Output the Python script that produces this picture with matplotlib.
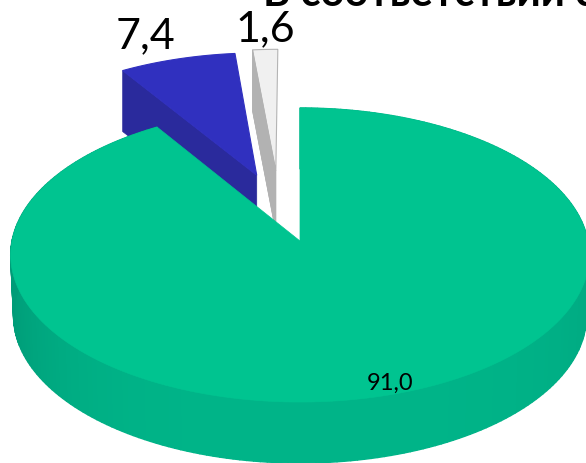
import numpy as np
import matplotlib
matplotlib.use("Agg")
import matplotlib.pyplot as plt
from matplotlib.patches import Polygon

labels = ["91,0", "7,4", "1,6"]
values = [91.0, 7.4, 1.6]
title_text = "В соответствии с"

# style and geometry of the squashed, perspective pie
CX, CY, RX, A, K, DEPTH = 300, 242, 288, 145.7, 0.0952, 61
offsets = [(0, 0), (-0.157, -0.472), (-0.088, -0.504)]
top_cols = ["#00C490", "#3030BF", "#F0F0F0"]
side_cols = ["#00B488", "#2A2A9C", "#B2B2B2"]

fig = plt.figure(figsize=(5.86, 4.64), dpi=100)
ax = fig.add_axes([0, 0, 1, 1])
ax.set_xlim(0, 586)
ax.set_ylim(464, 0)
ax.axis("off")


def project(theta, r=1.0, off=(0, 0), down=0.0, shrink=1.0):
    u = r * np.sin(theta) + off[0]
    s = -r * np.cos(theta) + off[1]
    w = 1 - K * s
    return np.column_stack([CX + shrink * RX * u / w, CY + A * s / w + down])


def edges(values):
    c = np.cumsum([0] + list(values)) / sum(values) * 2 * np.pi
    return c[:-1], c[1:]


starts, ends = edges(values)


def top_poly(i):
    th = np.linspace(starts[i], ends[i], 200)
    return np.vstack([project(np.array([0.0]), 0.0, offsets[i]), project(th, 1.0, offsets[i])])


# exploded small wedges: side face first, then top, all behind the main wedge
for i in (1, 2):
    a = project(np.array([starts[i]]), 1.0, offsets[i])[0]
    b = project(np.array([0.0]), 0.0, offsets[i])[0]
    side = np.array([a, b, b + [0, DEPTH], a + [0, DEPTH]])
    ax.add_patch(Polygon(side, closed=True, fc=side_cols[i], ec=side_cols[i], lw=0.5, zorder=2))
    ec = "#B4B4B4" if i == 2 else top_cols[i]
    ax.add_patch(Polygon(top_poly(i), closed=True, fc=top_cols[i], ec=ec, lw=0.8, zorder=3))
    if i == 2:
        # the grey side face overlaps the pale top along the shared edge
        ax.add_patch(Polygon(side, closed=True, fc=side_cols[i], ec=side_cols[i], lw=0.5, zorder=4))

# main wedge rim as shaded facets
ths = np.linspace(0, ends[0], 260)
base = np.array([0, 180, 136]) / 255
dark_l = np.array([0, 156, 120]) / 255
dark_r = np.array([0, 170, 130]) / 255
for t0, t1 in zip(ths[:-1], ths[1:]):
    p0, p1 = project(np.array([t0, t1]))
    q0, q1 = project(np.array([t0, t1]), down=DEPTH, shrink=0.99)
    tm = 0.5 * (t0 + t1)
    m = abs(np.sin(tm)) ** 4
    col = base * (1 - m) + (dark_l if np.sin(tm) < 0 else dark_r) * m
    ax.add_patch(Polygon([p0, p1, q1, q0], closed=True, fc=col, ec=col, lw=1.0, zorder=5))

ax.add_patch(Polygon(top_poly(0), closed=True, fc=top_cols[0], ec=top_cols[0], lw=0.5, zorder=6))

font = ["Lato", "DejaVu Sans"]
ax.text(146, 48, labels[1], fontsize=31, family=font, ha="center", va="baseline", color="black", zorder=8)
ax.text(265, 41, labels[2], fontsize=31, family=font, ha="center", va="baseline", color="black", zorder=8)
ax.text(390, 390, labels[0], fontsize=17, family=font, ha="center", va="baseline", color="black", zorder=8)
ax.text(263, 6, title_text, fontsize=30, family=font,
        fontweight="bold", ha="left", va="baseline", color="black", zorder=8)

fig.savefig("out.png", dpi=100)
